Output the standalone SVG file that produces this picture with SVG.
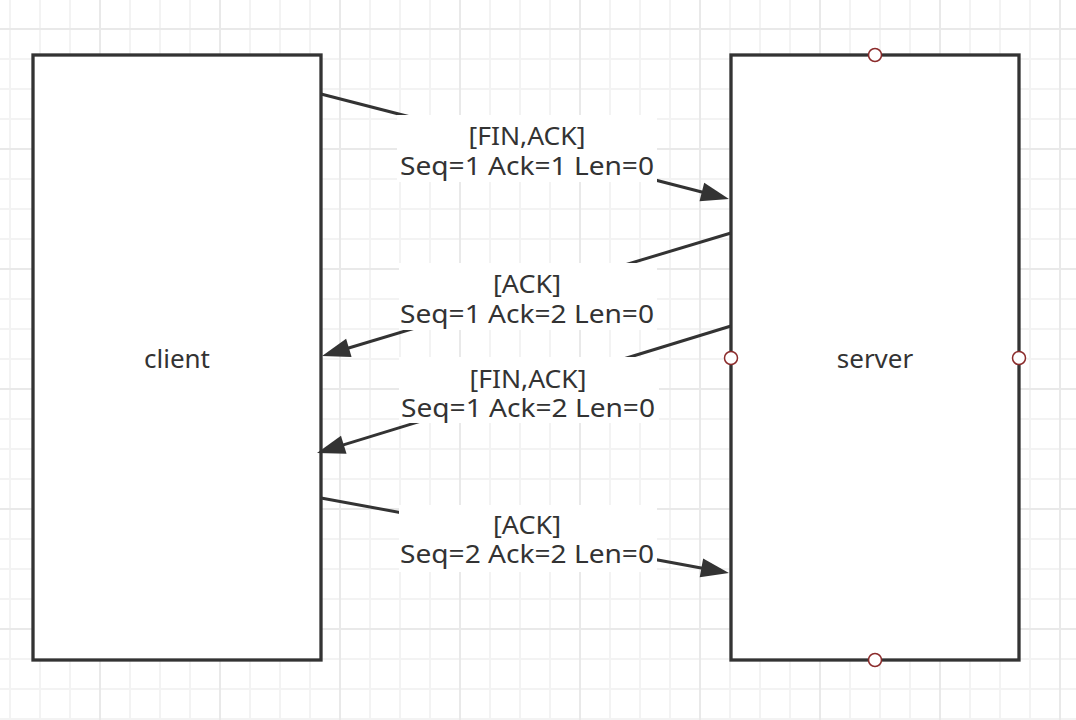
<svg xmlns="http://www.w3.org/2000/svg" width="1076" height="720" viewBox="0 0 1076 720">
<style>
.box{fill:#ffffff;stroke:#333333;stroke-width:3.3;}
.port{fill:#ffffff;stroke:#8b2b2b;stroke-width:1.5;}
.t{font-family:"Noto Sans","Open Sans","DejaVu Sans",sans-serif;font-size:26px;fill:#333333;text-anchor:middle;}
.conn{stroke:#333333;stroke-width:3;fill:none;marker-end:url(#arr);}
.lblbg{fill:#ffffff;}
</style>
<defs>
<pattern id="grid" patternUnits="userSpaceOnUse" x="80" y="9" width="120" height="120">
<path d="M50,0V120M80,0V120M110,0V120M0,50H120M0,80H120M0,110H120" stroke="#f3f3f3" stroke-width="2" fill="none"/>
<path d="M20,0V120M0,20H120" stroke="#e9e9e9" stroke-width="2" fill="none"/>
</pattern>
<marker id="arr" markerUnits="userSpaceOnUse" markerWidth="30" markerHeight="20" refX="8" refY="9.5" orient="auto" overflow="visible">
<path d="M0,0 L28,9.5 L0,19 Z" fill="#333333"/>
</marker>
</defs>
<rect x="0" y="0" width="1076" height="720" fill="#ffffff"/>
<rect x="0" y="0" width="1076" height="720" fill="url(#grid)"/>

<g id="client">
<rect class="box" x="33" y="55" width="288" height="605"/>
<text class="t" x="177" y="368">client</text>
</g>

<g id="server">
<rect class="box" x="731" y="55" width="288" height="605"/>
<text class="t" x="875" y="368">server</text>
<circle class="port" cx="875" cy="55" r="6.5"/>
<circle class="port" cx="875" cy="660" r="6.5"/>
<circle class="port" cx="731" cy="358" r="6.5"/>
<circle class="port" cx="1019" cy="358" r="6.5"/>
</g>

<g id="connectors">
<g id="c1">
<line class="conn" x1="321" y1="94" x2="709.6" y2="194"/>
<rect class="lblbg" x="397" y="115" width="260" height="67"/>
<text class="t"><tspan x="527" y="145" textLength="117" lengthAdjust="spacingAndGlyphs">[FIN,ACK]</tspan><tspan x="527" y="174.5" textLength="254" lengthAdjust="spacingAndGlyphs">Seq=1 Ack=1 Len=0</tspan></text>
</g>
<g id="c2">
<line class="conn" x1="731" y1="233" x2="341.2" y2="350.2"/>
<rect class="lblbg" x="399" y="263" width="258" height="67"/>
<text class="t"><tspan x="527" y="293" textLength="68" lengthAdjust="spacingAndGlyphs">[ACK]</tspan><tspan x="527" y="322.5" textLength="254" lengthAdjust="spacingAndGlyphs">Seq=1 Ack=2 Len=0</tspan></text>
</g>
<g id="c3">
<line class="conn" x1="731" y1="326" x2="336.1" y2="447.1"/>
<rect class="lblbg" x="399" y="357" width="260" height="66"/>
<text class="t"><tspan x="528" y="387.5" textLength="117" lengthAdjust="spacingAndGlyphs">[FIN,ACK]</tspan><tspan x="528" y="417" textLength="254" lengthAdjust="spacingAndGlyphs">Seq=1 Ack=2 Len=0</tspan></text>
</g>
<g id="c4">
<line class="conn" x1="321" y1="498" x2="709.3" y2="569.4"/>
<rect class="lblbg" x="399" y="505" width="258" height="67"/>
<text class="t"><tspan x="527" y="534" textLength="68" lengthAdjust="spacingAndGlyphs">[ACK]</tspan><tspan x="527" y="563" textLength="254" lengthAdjust="spacingAndGlyphs">Seq=2 Ack=2 Len=0</tspan></text>
</g>
</g>
</svg>
